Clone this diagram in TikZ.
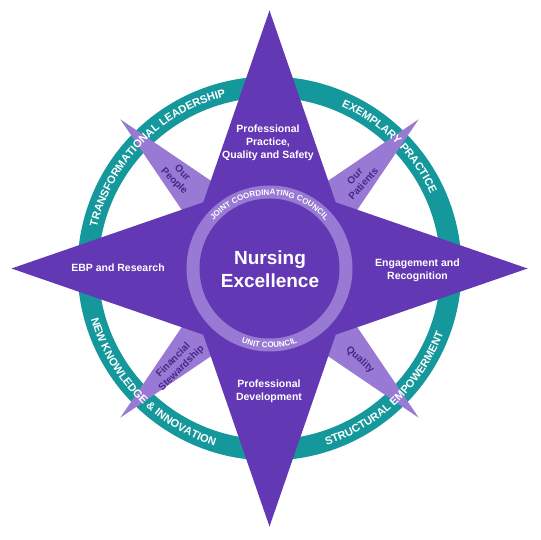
\documentclass[tikz,border=0pt]{standalone}
\usepackage{fontspec}
\setmainfont{Liberation Sans}
\usetikzlibrary{decorations.text}
\definecolor{starpurple}{RGB}{99,56,180}
\definecolor{lightpurple}{RGB}{152,122,212}
\definecolor{ringteal}{RGB}{20,152,155}
\definecolor{darktext}{RGB}{72,38,140}
\newcommand\ringfont{\fontsize{11}{11}\selectfont\bfseries}
\newcommand\innerringfont{\fontsize{8}{8}\selectfont\bfseries}
\begin{document}
\begin{tikzpicture}[x=1pt,y=1pt,
  lbl/.style={text=white, font=\fontsize{10.5}{13}\selectfont\bfseries, align=center},
  tri/.style={text=darktext, font=\fontsize{10}{11.5}\selectfont\bfseries, align=center},
  ringtext/.style={decorate, decoration={text along path, text align=center, text color=white, text={#1}}}
]
\useasboundingbox (-269.5,-271.5) rectangle (270.5,268.5);
\fill[white] (-269.5,-271.5) rectangle (270.5,268.5);
% teal ring
\fill[ringteal, even odd rule] (0,0) circle[radius=192] (0,0) circle[radius=171];
% light purple secondary points
\foreach \a in {45,135,225,315} {
  \fill[lightpurple, rotate=\a] (211,0) -- (70,27) -- (70,-27) -- cycle;
}
% main star
\fill[starpurple] (0,258) -- (66.2,66.2) -- (258,0) -- (66.2,-66.2) -- (0,-258) -- (-66.2,-66.2) -- (-258,0) -- (-66.2,66.2) -- cycle;
% inner ring
\fill[lightpurple] (0,0) circle[radius=83];
\fill[starpurple] (0,0) circle[radius=70];
% ring texts
\path[ringtext={|\ringfont|TRANSFORMATIONAL LEADERSHIP}] (185.35:177.5) arc[start angle=185.35, end angle=85.35, radius=177.5];
\path[ringtext={|\ringfont|EXEMPLARY PRACTICE}] (85.5:177.5) arc[start angle=85.5, end angle=5.5, radius=177.5];
\path[ringtext={|\ringfont|STRUCTURAL EMPOWERMENT}] (-86.25:185.5) arc[start angle=-86.25, end angle=-6.25, radius=185.5];
\path[ringtext={|\ringfont|NEW KNOWLEDGE {\&} INNOVATION}] (184.3:185.5) arc[start angle=184.3, end angle=264.3, radius=185.5];
\path[ringtext={|\innerringfont|JOINT COORDINATING COUNCIL}] (170:73.6) arc[start angle=170, end angle=10, radius=73.6];
\path[ringtext={|\innerringfont|UNIT COUNCIL}] (200:79.4) arc[start angle=200, end angle=340, radius=79.4];
% labels
\node[lbl] (pp) at (-1.5,125.5) {Professional\\Practice,\\Quality and Safety};
\node[lbl] (ebp) at (-151.5,0.5) {EBP and Research};
\node[lbl] (er) at (148,-1.5) {Engagement and\\Recognition};
\node[lbl] (pd) at (-0.5,-122.5) {Professional\\Development};
\node[text=white, font=\fontsize{19}{23}\selectfont\bfseries, align=center] (ne) at (0.5,-1) {Nursing\\Excellence};
\node[tri, rotate=-45] (op) at (-91.5,91) {Our\\People};
\node[tri, rotate=48] (opa) at (89.5,88.5) {Our\\Patients};
\node[tri, rotate=45] (fs) at (-92,-96) {Financial\\Stewardship};
\node[tri, rotate=-42] (q) at (90.5,-91.5) {Quality};
\end{tikzpicture}
\end{document}
